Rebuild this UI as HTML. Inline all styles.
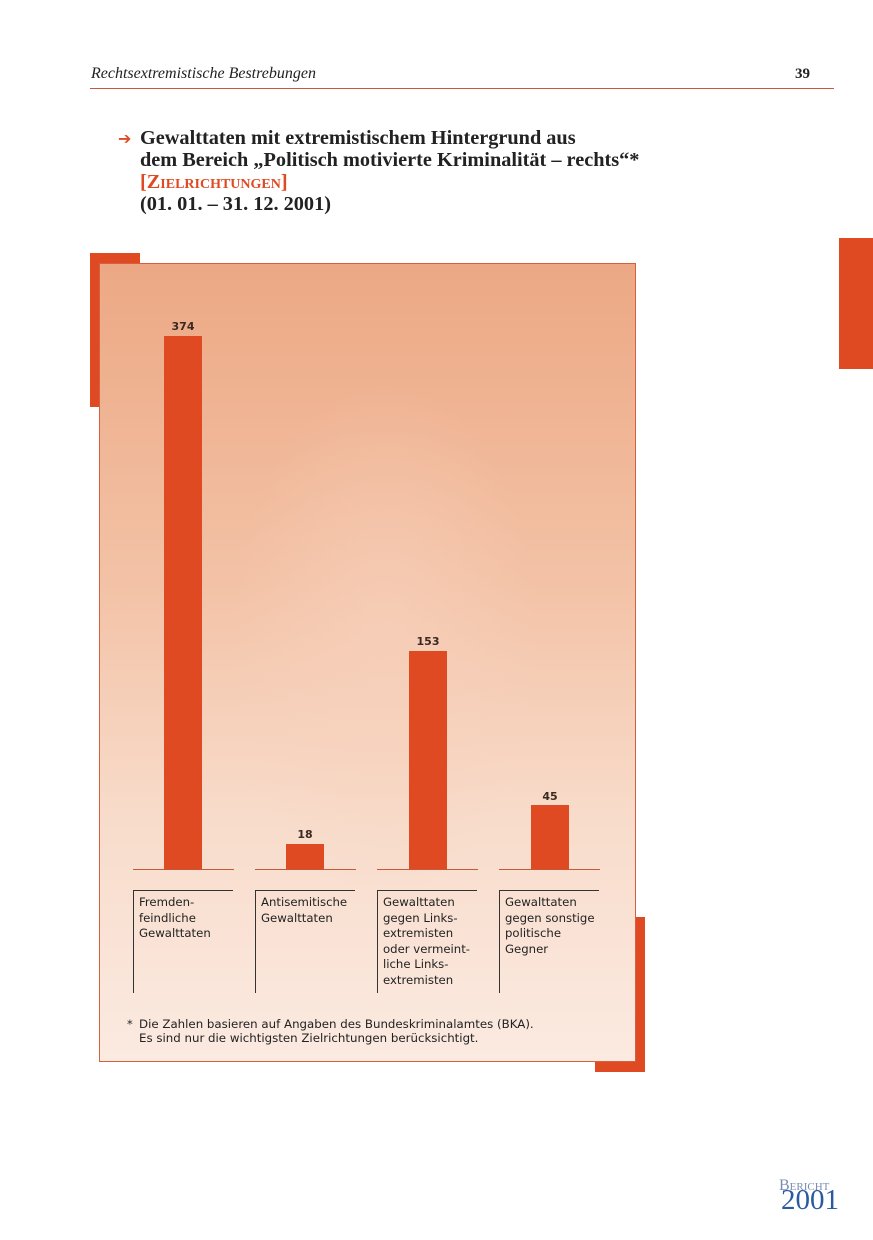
<!DOCTYPE html>
<html><head><meta charset="utf-8"><style>
body{margin:0;width:873px;height:1240px;background:#fff;position:relative;overflow:hidden;font-family:"DejaVu Sans","Liberation Sans",sans-serif}
.a{position:absolute}
.serif{font-family:"Liberation Serif",serif}
.bar{position:absolute;background:#df4a22;width:38px}
.val{position:absolute;width:60px;text-align:center;font-size:11px;font-weight:bold;color:#3a2a22}
.base{position:absolute;height:1px;background:#c8583a;top:869px;width:101px}
.lab{position:absolute;top:890px;height:103px;border-left:1px solid #333;border-top:1px solid #333;width:100px;font-size:11.7px;line-height:15.5px;color:#222;padding:4px 0 0 5px;box-sizing:border-box;white-space:nowrap}
</style></head><body>
<div class="a serif" style="left:91px;top:65px;font-size:16px;font-style:italic;color:#222">Rechtsextremistische Bestrebungen</div>
<div class="a serif" style="left:795px;top:66px;font-size:15px;font-weight:bold;color:#222">39</div>
<div class="a" style="left:90px;top:88px;width:744px;height:1px;background:#c8583a"></div>
<div class="a" style="left:118px;top:129px;font-size:16px;color:#df4a22">➔</div>
<div class="a serif" style="left:140px;top:127px;font-size:20.3px;line-height:22px;color:#222;font-weight:bold;white-space:nowrap">Gewalttaten mit extremistischem Hintergrund aus<br>dem Bereich „Politisch motivierte Kriminalität – rechts“*<br><span style="color:#df4a22;font-variant:small-caps">[Zielrichtungen]</span><br>(01. 01. – 31. 12. 2001)</div>
<div class="a" style="left:839px;top:238px;width:34px;height:131px;background:#df4a22"></div>
<div class="a" style="left:90px;top:253px;width:50px;height:154px;background:#df4a22"></div>
<div class="a" style="left:595px;top:917px;width:50px;height:155px;background:#df4a22"></div>
<div class="a" style="left:99px;top:263px;width:535px;height:797px;border:1px solid #d4603e;background:linear-gradient(#eca884 0%,#f3c2a6 40%,#f8dccb 70%,#fbeae1 100%)"></div>
<div class="a" style="left:230px;top:380px;width:310px;height:520px;background:radial-gradient(ellipse at center,rgba(248,210,190,0.6),rgba(248,210,190,0) 70%)"></div>
<div class="bar" style="left:164px;top:336px;height:533px"></div>
<div class="bar" style="left:286px;top:844px;height:25px"></div>
<div class="bar" style="left:409px;top:651px;height:218px"></div>
<div class="bar" style="left:531px;top:805px;height:64px"></div>
<div class="val" style="left:153px;top:320px">374</div>
<div class="val" style="left:275px;top:828px">18</div>
<div class="val" style="left:398px;top:635px">153</div>
<div class="val" style="left:520px;top:790px">45</div>
<div class="base" style="left:133px"></div><div class="base" style="left:255px"></div><div class="base" style="left:377px"></div><div class="base" style="left:499px"></div>
<div class="lab" style="left:133px">Fremden-<br>feindliche<br>Gewalttaten</div>
<div class="lab" style="left:255px">Antisemitische<br>Gewalttaten</div>
<div class="lab" style="left:377px">Gewalttaten<br>gegen Links-<br>extremisten<br>oder vermeint-<br>liche Links-<br>extremisten</div>
<div class="lab" style="left:499px">Gewalttaten<br>gegen sonstige<br>politische<br>Gegner</div>
<div class="a" style="left:127px;top:1017px;font-size:11.5px;line-height:14px;color:#222">*</div>
<div class="a" style="left:139px;top:1017px;font-size:11.8px;line-height:14px;color:#222;white-space:nowrap">Die Zahlen basieren auf Angaben des Bundeskriminalamtes (BKA).<br>Es sind nur die wichtigsten Zielrichtungen berücksichtigt.</div>
<div class="a serif" style="left:779px;top:1177px;font-size:16px;color:#7a8db0;font-variant:small-caps">Bericht</div>
<div class="a serif" style="left:781px;top:1186px;font-size:29px;line-height:28px;color:#2a5aa0">2001</div>
</body></html>
